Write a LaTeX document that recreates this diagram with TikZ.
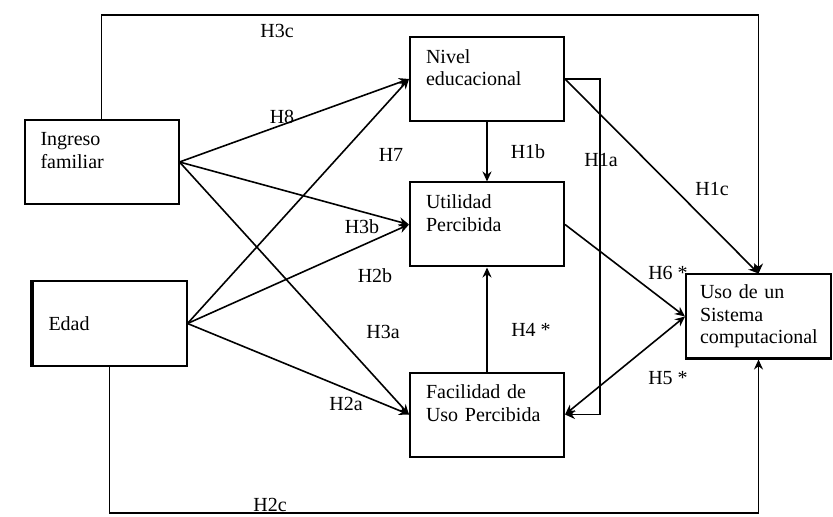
\documentclass[tikz,border=0pt]{standalone}
\usepackage{fontspec}
\setmainfont{Liberation Serif}
\usetikzlibrary{arrows.meta}

\begin{document}
\begin{tikzpicture}[x=0.5pt,y=-0.5pt,font=\fontsize{10}{11.3}\selectfont]
\tikzstyle{varbox} = [rectangle, draw=black, line width=1pt, minimum height=42pt, text width=61pt, inner xsep=8pt, align=left]
\tikzstyle{arrow} = [thick,->,>={Stealth[length=5pt,width=4.5pt]}]
\tikzstyle{hyp} = [inner sep=1pt]

\useasboundingbox (0,0) rectangle (833,517);

\node [varbox] (v1) at (101.5,162) {Ingreso\\familiar\\~};
\node [varbox] (v2) at (109.5,323.5) {Edad};
\node [varbox] (v3) at (487,79) {Nivel\\educacional\\~};
\node [varbox] (v4) at (487,224.5) {Utilidad\\Percibida\\~};
\node [varbox] (v5) at (487,414.5) {Facilidad de\\Uso Percibida\\~};
\node [varbox, text width=58.5pt, inner xsep=7pt] (v6) at (758.5,316.5) {Uso de un\\Sistema\\computacional};
\draw [line width=1.6pt] (v2.north west) -- (v2.south west);

\coordinate (c1) at (v6.north |- 0,15);
\coordinate (c2) at (v6.south |- 0,513);
\coordinate (c3) at (600,0);

\draw [arrow] (v1.north) |- (c1) -- (v6.north);
\draw [arrow] (v2.south) |- (c2) -- (v6.south);
\draw [arrow] (v1.east) -- (v3.west);
\draw [arrow] (v1.east) -- (v4.west);
\draw [arrow] (v1.east) -- (v5.west);
\draw [arrow] (v2.east) -- (v3.west);
\draw [arrow] (v2.east) -- (v4.west);
\draw [arrow] (v2.east) -- (v5.west);
\draw [arrow] (v3.south) -- (v4.north);
\draw [arrow] (v5.north) -- (v4.south);
\draw [arrow] (v3.east) -- (v3.east -| c3) -- (v5.east -| c3) -- (v5.east);
\draw [arrow] (v3.east) -- (v6.north);
\draw [arrow] (v4.east) -- (v6.west);
\draw [arrow,<->] (v5.east) -- (v6.west);

\node [hyp] (h3c) at (277,31) {H3c};
\node [hyp] (h8) at (282,117) {H8};
\node [hyp] (h7) at (391,155) {H7};
\node [hyp] (h3b) at (362,227) {H3b};
\node [hyp] (h2b) at (375,276) {H2b};
\node [hyp] (h3a) at (383,332) {H3a};
\node [hyp] (h2a) at (346,404) {H2a};
\node [hyp] (h2c) at (270,505) {H2c};
\node [hyp] (h1b) at (528,152) {H1b};
\node [hyp] (h1a) at (601,160) {H1a};
\node [hyp] (h1c) at (712,189) {H1c};
\node [hyp] (h6) at (668,273) {H6 *};
\node [hyp] (h4) at (531,330) {H4 *};
\node [hyp] (h5) at (668,378) {H5 *};
\end{tikzpicture}
\end{document}
